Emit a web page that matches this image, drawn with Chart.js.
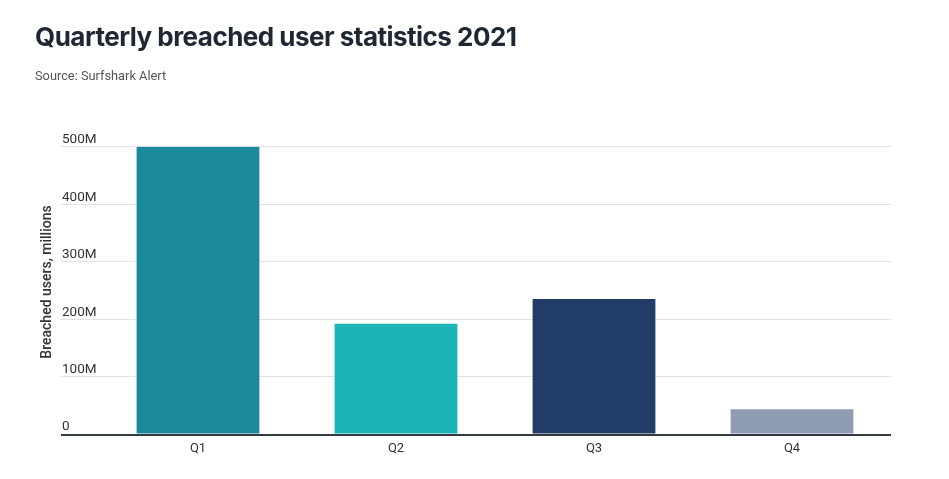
<!DOCTYPE html>
<html>
<head>
<meta charset="utf-8">
<script src="https://cdn.jsdelivr.net/npm/chart.js@4.4.0/dist/chart.umd.min.js"></script>
<style>
  html, body { margin: 0; padding: 0; background: #fff; }
  #wrap { position: relative; width: 949px; height: 479px; overflow: hidden; }
  #title { position: absolute; left: 35px; top: 24px; margin: 0; font: 700 26px/26px Inter, sans-serif; color: #1f2832; white-space: nowrap; }
  #sub { position: absolute; left: 35px; top: 70px; margin: 0; font: 400 12.8px/12px Roboto, sans-serif; color: #555; white-space: nowrap; }
  #cv { position: absolute; left: 0; top: 0; }
</style>
</head>
<body>
<div id="wrap">
  <canvas id="cv" width="949" height="479"></canvas>
  <h1 id="title">Quarterly breached user statistics 2021</h1>
  <p id="sub">Source: Surfshark Alert</p>
</div>
<script>
// ---- data ----
const categories = ['Q1', 'Q2', 'Q3', 'Q4'];
const breachedUsers = [500, 192.5, 235.5, 44]; // millions
const barColors = ['#1a899b', '#1cb4b6', '#223c69', '#8e9bb3'];
const yTicks = [0, 100, 200, 300, 400, 500];
const yTickLabels = ['0', '100M', '200M', '300M', '400M', '500M'];
const yTitle = 'Breached users, millions';

// fit title width to reference
(function () {
  const t = document.getElementById('title');
  const target = 482;
  const w = t.getBoundingClientRect().width;
  const n = t.textContent.length;
  t.style.letterSpacing = ((target - w) / (n - 1)) + 'px';
})();

const overlay = {
  id: 'overlay',
  afterDraw(chart) {
    const ctx = chart.ctx;
    const y = chart.scales.y;
    ctx.save();
    ctx.fillStyle = '#333';
    ctx.font = '13.5px Roboto';
    ctx.textAlign = 'left';
    ctx.textBaseline = 'alphabetic';
    yTicks.forEach((v, i) => {
      const off = v === 0 ? 5 : 3.5;
      ctx.fillText(yTickLabels[i], 62, y.getPixelForValue(v) - off);
    });
    ctx.translate(47, 282);
    ctx.rotate(-Math.PI / 2);
    ctx.font = '500 14px Roboto';
    ctx.textAlign = 'center';
    ctx.textBaseline = 'middle';
    ctx.fillText(yTitle, 0, 0);
    ctx.restore();
  }
};

new Chart(document.getElementById('cv'), {
  type: 'bar',
  data: {
    labels: categories,
    datasets: [{
      data: breachedUsers,
      backgroundColor: barColors,
      borderWidth: 0,
      barPercentage: 0.62,
      categoryPercentage: 1.0
    }]
  },
  options: {
    responsive: false,
    animation: false,
    devicePixelRatio: 1,
    layout: { padding: { top: 146.7, right: 58, bottom: 0, left: 0 } },
    plugins: { legend: { display: false }, tooltip: { enabled: false } },
    scales: {
      x: {
        grid: { display: false, drawTicks: false },
        border: { display: false },
        ticks: { color: '#333', font: { family: 'Roboto', size: 13 }, padding: 6 },
        afterFit(s) { s.height = 44.5; }
      },
      y: {
        min: 0, max: 500,
        afterBuildTicks(s) { s.ticks = yTicks.map(v => ({ value: v })); },
        ticks: { display: false },
        border: { display: false },
        grid: {
          drawTicks: true,
          tickLength: 38,
          color: c => (c.tick && c.tick.value === 0) ? '#333a40' : '#e2e2e2',
          lineWidth: c => (c.tick && c.tick.value === 0) ? 2 : 1
        },
        afterFit(s) { s.width = 99; }
      }
    }
  },
  plugins: [overlay]
});
</script>
</body>
</html>
